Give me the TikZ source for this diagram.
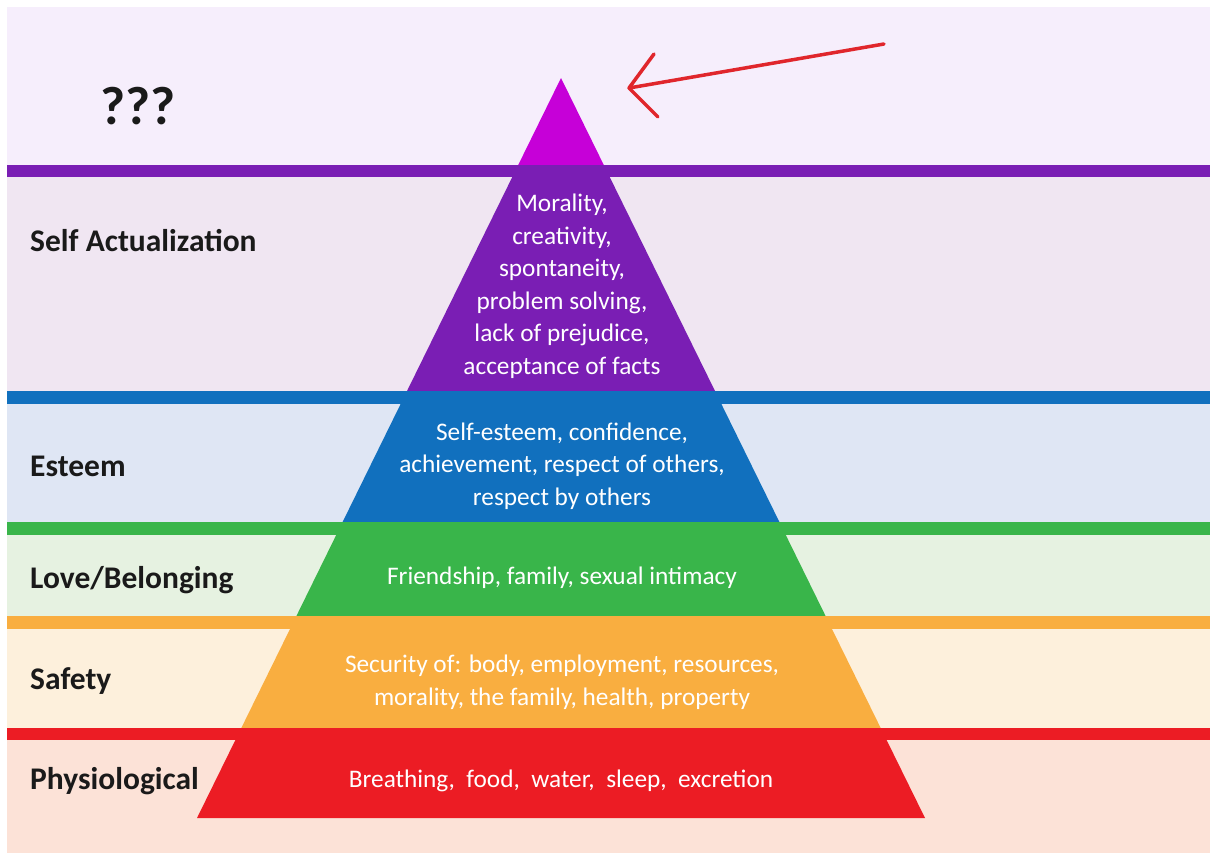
\documentclass[tikz,border=0pt]{standalone}
\usepackage{fontspec}
\setmainfont{Carlito}
\definecolor{bgtop}{HTML}{F6EEFC}
\definecolor{bgself}{HTML}{F0E6F2}
\definecolor{bgest}{HTML}{DFE6F4}
\definecolor{bglove}{HTML}{E6F2E1}
\definecolor{bgsafe}{HTML}{FDF0DC}
\definecolor{bgphys}{HTML}{FCE2D7}
\definecolor{cmag}{HTML}{C600D8}
\definecolor{cpurple}{HTML}{7A1EB4}
\definecolor{cblue}{HTML}{1170BE}
\definecolor{cgreen}{HTML}{39B54A}
\definecolor{corange}{HTML}{F9AE40}
\definecolor{cred}{HTML}{EC1C24}
\definecolor{carrow}{HTML}{E0262C}
\definecolor{labelc}{HTML}{1A1A1A}
\begin{document}
\begin{tikzpicture}[x=1pt,y=-1pt,
  lbl/.style={anchor=base west, font=\fontsize{31.5}{36}\selectfont\bfseries, text=labelc, inner sep=0},
  wtxt/.style={align=center, font=\fontsize{25.3}{32.5}\selectfont, text=white, inner sep=0},
  stripe/.style={fill=#1},
  tier/.style={fill=#1}]
\useasboundingbox (0,0) rectangle (1210,855);
\fill[white] (0,0) rectangle (1210,855);
% background bands
\fill[bgtop]  (7,7)   rectangle (1210,165);
\fill[bgself] (7,177) rectangle (1210,391);
\fill[bgest]  (7,404) rectangle (1210,522);
\fill[bglove] (7,535) rectangle (1210,616);
\fill[bgsafe] (7,629) rectangle (1210,728);
\fill[bgphys] (7,740) rectangle (1210,853);
% stripes
\fill[stripe=cpurple] (7,165) rectangle (1210,177);
\fill[stripe=cblue]   (7,391) rectangle (1210,404);
\fill[stripe=cgreen]  (7,522) rectangle (1210,535);
\fill[stripe=corange] (7,616) rectangle (1210,629);
\fill[stripe=cred]    (7,728) rectangle (1210,740);
% pyramid tiers
\fill[tier=cmag]    (561,78) -- (603.8,165) -- (518.2,165) -- cycle;
\fill[tier=cpurple] (518.2,165) -- (603.8,165) -- (715.0,391) -- (407.0,391) -- cycle;
\fill[tier=cblue]   (407.0,391) -- (715.0,391) -- (779.4,522) -- (342.6,522) -- cycle;
\fill[tier=cgreen]  (342.6,522) -- (779.4,522) -- (825.6,616) -- (296.4,616) -- cycle;
\fill[tier=corange] (296.4,616) -- (825.6,616) -- (880.7,728) -- (241.3,728) -- cycle;
\fill[tier=cred]    (241.3,728) -- (880.7,728) -- (925,818) -- (197,818) -- cycle;
% tier texts
\node[wtxt] (tself) at (562,286) {Morality,\\creativity,\\spontaneity,\\problem solving,\\lack of prejudice,\\acceptance of facts};
\node[wtxt] (test) at (562,466) {Self-esteem, confidence,\\achievement, respect of others,\\respect by others};
\node[wtxt] (tlove) at (562,578) {Friendship, family, sexual intimacy};
\node[wtxt] (tsafe) at (562,682) {Security of: body, employment, resources,\\morality, the family, health, property};
\node[wtxt] (tphys) at (561,781) {Breathing,\ \ food,\ \ water,\ \ sleep,\ \ excretion};
% labels
\node[lbl] (lq) at (100,124) {\fontsize{54}{58}\selectfont ???};
\node[lbl] (lself) at (30,251) {Self Actualization};
\node[lbl] (lest) at (30,476) {Esteem};
\node[lbl] (llove) at (30,588) {Love/Belonging};
\node[lbl] (lsafe) at (30,689) {Safety};
\node[lbl] (lphys) at (30,789) {Physiological};
% arrow
\coordinate (atail) at (884,44);
\coordinate (atip) at (629,88);
\coordinate (abu) at (654,54);
\coordinate (abl) at (658,117);
\draw[carrow, line width=3.5pt, line cap=round] (atail) -- (atip);
\draw[carrow, line width=3.5pt, line cap=round, line join=round] (abu) -- (atip) -- (abl);
\end{tikzpicture}
\end{document}
